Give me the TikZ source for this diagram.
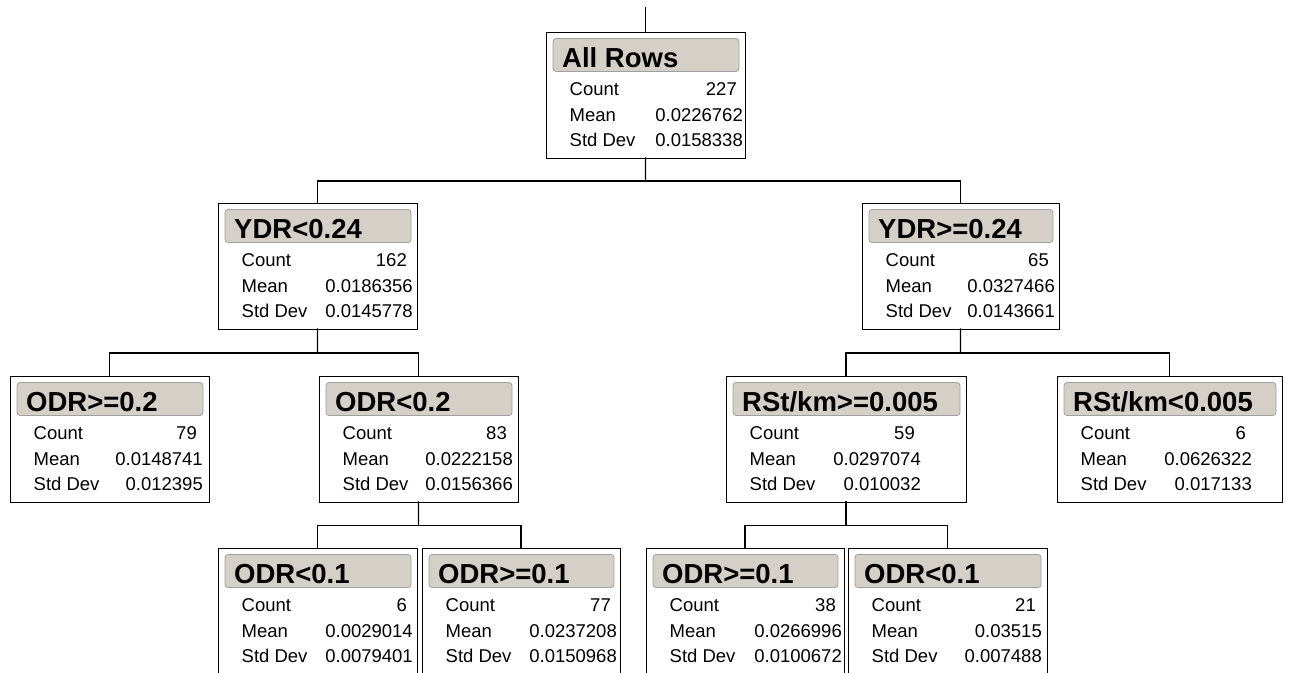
\documentclass[tikz,border=0pt]{standalone}
\usepackage{fontspec}
\setmainfont{Liberation Sans}
\usetikzlibrary{calc}
\definecolor{hdrfill}{HTML}{D4D0C8}
\definecolor{hdrline}{HTML}{A0A0A0}
\tikzset{
  statbox/.style={draw=black, line width=1pt, fill=white, inner sep=0pt, outer sep=0pt},
  hdrbox/.style={draw=hdrline, line width=0.8pt, fill=hdrfill, rounded corners=3pt},
  hdrtext/.style={inner sep=0pt, font=\fontsize{27.5}{30}\selectfont\bfseries},
  stattext/.style={inner sep=0pt, font=\fontsize{18.5}{20}\selectfont},
  link/.style={draw=black, line width=1.1pt, line cap=rect},
}
% #1 name, #2 left, #3 top, #4 right, #5 header, #6 count, #7 mean, #8 sd, #9 value right offset
\newcommand\jmpnode[9]{%
  \node[statbox, anchor=north west, minimum width={#4-#2}, minimum height=126] (#1) at (#2,#3) {};
  \draw[hdrbox] ($(#1.north west)+(7,6.5)$) rectangle ($(#1.north east)+(-6,39.5)$);
  \node[hdrtext, anchor=base west] (#1-h) at ($(#1.north west)+(16,35.5)$) {#5};
  \node[stattext, anchor=base west] (#1-l1) at ($(#1.north west)+(23.5,63.5)$) {Count};
  \node[stattext, anchor=base west] (#1-l2) at ($(#1.north west)+(23.5,89)$) {Mean};
  \node[stattext, anchor=base west] (#1-l3) at ($(#1.north west)+(23.5,114.5)$) {Std Dev};
  \node[stattext, anchor=base east] (#1-v1) at ($(#1.north east)+(-#9-6,63.5)$) {#6};
  \node[stattext, anchor=base east] (#1-v2) at ($(#1.north east)+(-#9,89)$) {#7};
  \node[stattext, anchor=base east] (#1-v3) at ($(#1.north east)+(-#9,114.5)$) {#8};
}
\begin{document}
\begin{tikzpicture}[x=1pt,y=-1pt]
\useasboundingbox (0,0) rectangle (1289,672);
\clip (0,0) rectangle (1289,672);
\fill[white] (0,0) rectangle (1289,672);

\jmpnode{n0}{546}{32}{745}{All Rows}{227}{0.0226762}{0.0158338}{2}
\jmpnode{n1}{218}{203}{417}{YDR<0.24}{162}{0.0186356}{0.0145778}{4}
\jmpnode{n2}{862}{203}{1059}{YDR>=0.24}{65}{0.0327466}{0.0143661}{4}
\jmpnode{n11}{10}{376}{209}{ODR>=0.2}{79}{0.0148741}{0.012395}{6}
\jmpnode{n12}{319}{376}{518}{ODR<0.2}{83}{0.0222158}{0.0156366}{5}
\jmpnode{n21}{726}{376}{966}{RSt/km>=0.005}{59}{0.0297074}{0.010032}{45}
\jmpnode{n22}{1057}{376}{1282}{RSt/km<0.005}{6}{0.0626322}{0.017133}{30}
\jmpnode{n121}{218}{548}{417}{ODR<0.1}{6}{0.0029014}{0.0079401}{4}
\jmpnode{n122}{422}{548}{620}{ODR>=0.1}{77}{0.0237208}{0.0150968}{3}
\jmpnode{n211}{646}{548}{844}{ODR>=0.1}{38}{0.0266996}{0.0100672}{2}
\jmpnode{n212}{848}{548}{1047}{ODR<0.1}{21}{0.03515}{0.007488}{5}

% connectors
\coordinate (top) at (n0.north |- 0,8);
\draw[link] (top) -- (n0.north);

\coordinate (j0) at ($(n0.south)!0.51!(n0.south |- n1.north)$);
\draw[link] (n0.south) -- (j0);
\draw[link] (n1.north) |- (j0) -| (n2.north);

\coordinate (j1) at ($(n1.south)!0.51!(n1.south |- n11.north)$);
\draw[link] (n1.south) -- (j1);
\draw[link] (n11.north) |- (j1) -| (n12.north);

\coordinate (j2) at ($(n2.south)!0.51!(n2.south |- n21.north)$);
\draw[link] (n2.south) -- (j2);
\draw[link] (n21.north) |- (j2) -| (n22.north);

\coordinate (j12) at ($(n12.south)!0.51!(n12.south |- n121.north)$);
\draw[link] (n12.south) -- (j12);
\draw[link] (n121.north) |- (j12) -| (n122.north);

\coordinate (j21) at ($(n21.south)!0.51!(n21.south |- n211.north)$);
\draw[link] (n21.south) -- (j21);
\draw[link] (n211.north) |- (j21) -| (n212.north);
\end{tikzpicture}
\end{document}
